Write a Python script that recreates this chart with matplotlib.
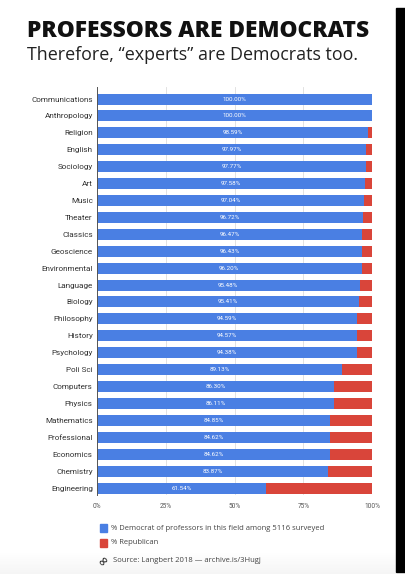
import matplotlib
matplotlib.use("Agg")
import matplotlib.pyplot as plt
import numpy as np
from matplotlib.patches import Rectangle

# Data (Langbert 2018)
fields = ["Communications", "Anthropology", "Religion", "English", "Sociology", "Art",
          "Music", "Theater", "Classics", "Geoscience", "Environmental", "Language",
          "Biology", "Philosophy", "History", "Psychology", "Poli Sci", "Computers",
          "Physics", "Mathematics", "Professional", "Economics", "Chemistry", "Engineering"]
democrat = [100.00, 100.00, 98.59, 97.97, 97.77, 97.58, 97.04, 96.72, 96.47, 96.43, 96.20, 95.48,
            95.41, 94.59, 94.57, 94.38, 89.13, 86.30, 86.11, 84.85, 84.62, 84.62, 83.87, 61.54]
republican = [0.00, 0.00, 1.41, 2.03, 2.23, 2.42, 2.96, 3.28, 3.53, 3.57, 3.80, 4.52,
              4.59, 5.41, 5.43, 5.62, 10.87, 13.70, 13.89, 15.15, 15.38, 15.38, 16.13, 38.46]
xticks = [0, 25, 50, 75, 100]
xtick_labels = ["0%", "25%", "50%", "75%", "100%"]

blue = "#4a7fe3"
red = "#d9453a"

fig = plt.figure(figsize=(4.05, 5.88), dpi=100)
fig.patch.set_facecolor("white")

# faint shadow at the bottom of the card
shade = fig.add_axes([0, 1 - 574 / 588, 396 / 405, 22 / 588])
shade.imshow(np.linspace(0, 1, 50).reshape(-1, 1), cmap="Greys", vmin=0, vmax=12,
             aspect="auto", extent=[0, 1, 0, 1])
shade.axis("off")

# black strip on the right edge
fig.patches.append(Rectangle((396 / 405, 1 - 572 / 588), 9 / 405, (572 - 8) / 588,
                             transform=fig.transFigure, color="black", zorder=0))

# title + subtitle
fig.text(27 / 405, 1 - 37 / 588, "PROFESSORS ARE DEMOCRATS", fontsize=16.4,
         fontweight="heavy", family="Open Sans", color="#111111", va="baseline")
fig.text(27 / 405, 1 - 60 / 588, "Therefore, \u201cexperts\u201d are Democrats too.",
         fontsize=12.9, family="Open Sans", color="#222222", va="baseline")

ax = fig.add_axes([97 / 405, 1 - 495 / 588, 275 / 405, (495 - 87) / 588])
ypos = list(range(len(fields)))
ax.barh(ypos, democrat, height=0.65, color=blue, zorder=2)
ax.barh(ypos, republican, left=democrat, height=0.65, color=red, zorder=2)

for y, d in zip(ypos, democrat):
    ax.text(d / 2, y, f"{d:.2f}%", ha="center", va="center", color="white",
            fontsize=4.5, family="Roboto", zorder=3)

ax.set_xlim(0, 100)
ax.set_ylim(23.41, -0.71)
ax.set_yticks(ypos)
ax.set_yticklabels(fields, fontsize=5.9, family="Roboto", color="#333333")
ax.set_xticks(xticks)
ax.set_xticklabels(xtick_labels, fontsize=4.7, family="Roboto", color="#555555")
ax.tick_params(length=0, pad=3)
ax.tick_params(axis="x", pad=6)
ax.grid(axis="x", color="#dddddd", linewidth=0.6, zorder=0)
for s in ["top", "right", "bottom"]:
    ax.spines[s].set_visible(False)
ax.spines["left"].set_color("#555555")
ax.spines["left"].set_linewidth(0.7)
ax.spines["left"].set_zorder(4)

# legend
leg_x = 100 / 405
for yy, col, lab in [(528, blue, "% Democrat of professors in this field among 5116 surveyed"),
                     (543, red, "% Republican")]:
    fig.patches.append(Rectangle((leg_x, 1 - (yy + 4) / 588), 7 / 405, 8 / 588,
                                 transform=fig.transFigure, color=col))
    fig.text(111 / 405, 1 - yy / 588, lab, fontsize=5.5, family="Open Sans",
             color="#444444", va="center")

fig.text(104 / 405, 1 - 561 / 588, "\u221e", fontsize=9, rotation=45, color="#333333",
         ha="center", va="center", fontweight="bold")
fig.text(113 / 405, 1 - 561 / 588, "Source: Langbert 2018 \u2014 archive.is/3Hugj",
         fontsize=5.5, family="Open Sans", color="#444444", va="center")

fig.savefig("out.png", dpi=100, facecolor="white")
